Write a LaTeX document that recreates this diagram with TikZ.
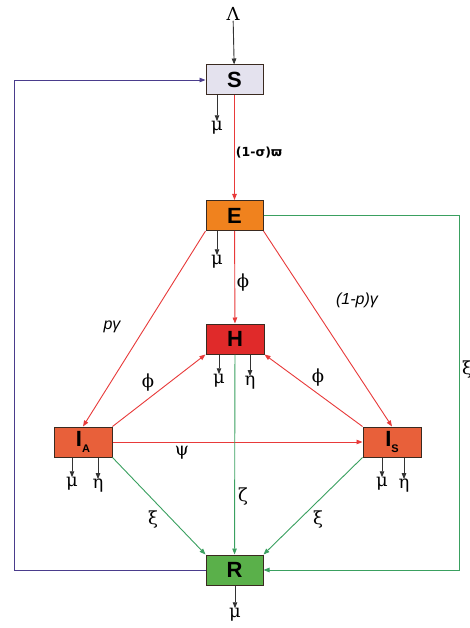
\documentclass[tikz,border=0pt]{standalone}
\usepackage{fontspec}
\setmainfont{Liberation Sans}
\newfontfamily\grk{DejaVu Serif}
\newfontfamily\grs{DejaVu Sans}
\usetikzlibrary{arrows.meta,calc}
\definecolor{sfill}{HTML}{E4E2EE}
\definecolor{efill}{HTML}{F0821E}
\definecolor{hfill}{HTML}{E02A2A}
\definecolor{ifill}{HTML}{E8603A}
\definecolor{rfill}{HTML}{5AB04A}
\definecolor{redl}{HTML}{E83A3A}
\definecolor{greenl}{HTML}{3AA060}
\definecolor{bluel}{HTML}{4A3C8C}
\definecolor{boxb}{HTML}{3A2A20}
\tikzset{
  comp/.style={draw=boxb, line width=1pt, minimum width=57pt, minimum height=30pt, inner sep=0pt, font=\fontsize{22}{22}\selectfont\bfseries},
  tip/.style={-{Triangle[length=6pt,width=4.5pt]}},
  rline/.style={tip, draw=redl, line width=0.9pt},
  gline/.style={tip, draw=greenl, line width=0.9pt},
  bline/.style={tip, draw=bluel, line width=0.9pt},
  kline/.style={tip, draw=black!80, line width=0.9pt},
  glab/.style={inner sep=0pt, font=\grk\fontsize{18}{18}\selectfont},
  ilab/.style={inner sep=0pt, font=\fontsize{16}{16}\selectfont\itshape},
}
\begin{document}
\begin{tikzpicture}[x=1pt,y=-1pt]
\path[use as bounding box, fill=white] (0,0) rectangle (469,628);

% compartments
\node[comp, fill=sfill] (S) at (234.5,80) {S};
\node[comp, fill=efill] (E) at (234.5,215.5) {E};
\node[comp, fill=hfill, minimum width=58pt] (H) at (235,339) {H};
\node[comp, fill=ifill, minimum width=58pt] (IA) at (83,442) {I\raisebox{-0.5ex}{\fontsize{11}{11}\selectfont\bfseries A}};
\node[comp, fill=ifill, minimum width=58pt] (IS) at (392,442) {I\raisebox{-0.5ex}{\fontsize{11}{11}\selectfont\bfseries S}};
\node[comp, fill=rfill] (R) at (234.5,570) {R};

% inflow
\node[glab] (L) at (233,14) {Λ};
\draw[kline] (L) -- (S);

% death arrows
\node[glab] (muS) at (217,128) {μ};
\draw[kline] (muS |- S.south) -- (muS.north);
\node[glab] (muE) at (217,262) {μ};
\draw[kline] (muE |- E.south) -- (muE.north);
\node[glab] (muH) at (219,381) {μ};
\draw[kline] (muH |- H.south) -- (muH.north);
\node[glab] (etH) at (250,383) {η};
\draw[kline] (etH |- H.south) -- (etH.north);
\node[glab] (muA) at (72,484) {μ};
\draw[kline] (muA |- IA.south) -- (muA.north);
\node[glab] (etA) at (98,486) {η};
\draw[kline] (etA |- IA.south) -- (etA.north);
\node[glab] (muI) at (382,484) {μ};
\draw[kline] (muI |- IS.south) -- (muI.north);
\node[glab] (etI) at (404,486) {η};
\draw[kline] (etI |- IS.south) -- (etI.north);
\node[glab] (muR) at (235,615) {μ};
\draw[kline] (muR |- R.south) -- (muR.north);

% red transitions
\draw[rline] (S) -- node[pos=0.55, right=1pt, inner sep=0pt, font=\grs\bfseries\fontsize{12.5}{12.5}\selectfont] {(1-σ)ϖ} (E);
\draw[rline] (E) -- (H);
\node[glab] at (243,283) {ϕ};
\draw[rline] (E.south west) -- (IA.north);
\node[ilab] at (112,327) {pγ};
\draw[rline] (E.south east) -- (IS.north);
\node[ilab] at (357,300) {(1-p)γ};
\draw[rline] (IA.north east) -- (H.south west);
\node[glab] at (148,383) {ϕ};
\draw[rline] (IS.north west) -- (H.south east);
\node[glab] at (318,378) {ϕ};
\draw[rline] (IA.east) -- (IS.west);
\node[glab] at (182,453) {ψ};

% green transitions
\draw[gline] (H) -- (R);
\node[glab] at (243,497) {ζ};
\draw[gline] (IA.south east) -- (R.north west);
\node[glab] at (153,520) {ξ};
\draw[gline] (IS.south west) -- (R.north east);
\node[glab] at (318,520) {ξ};
\coordinate (gc) at (459,215.5);
\draw[gline] (E.east) -- (gc) |- (R.east);
\node[glab, anchor=west] at (462,370) {ξ};

% loss of immunity
\coordinate (bc) at (14,570);
\draw[bline] (R.west) -- (bc) |- (S.west);
\end{tikzpicture}
\end{document}
